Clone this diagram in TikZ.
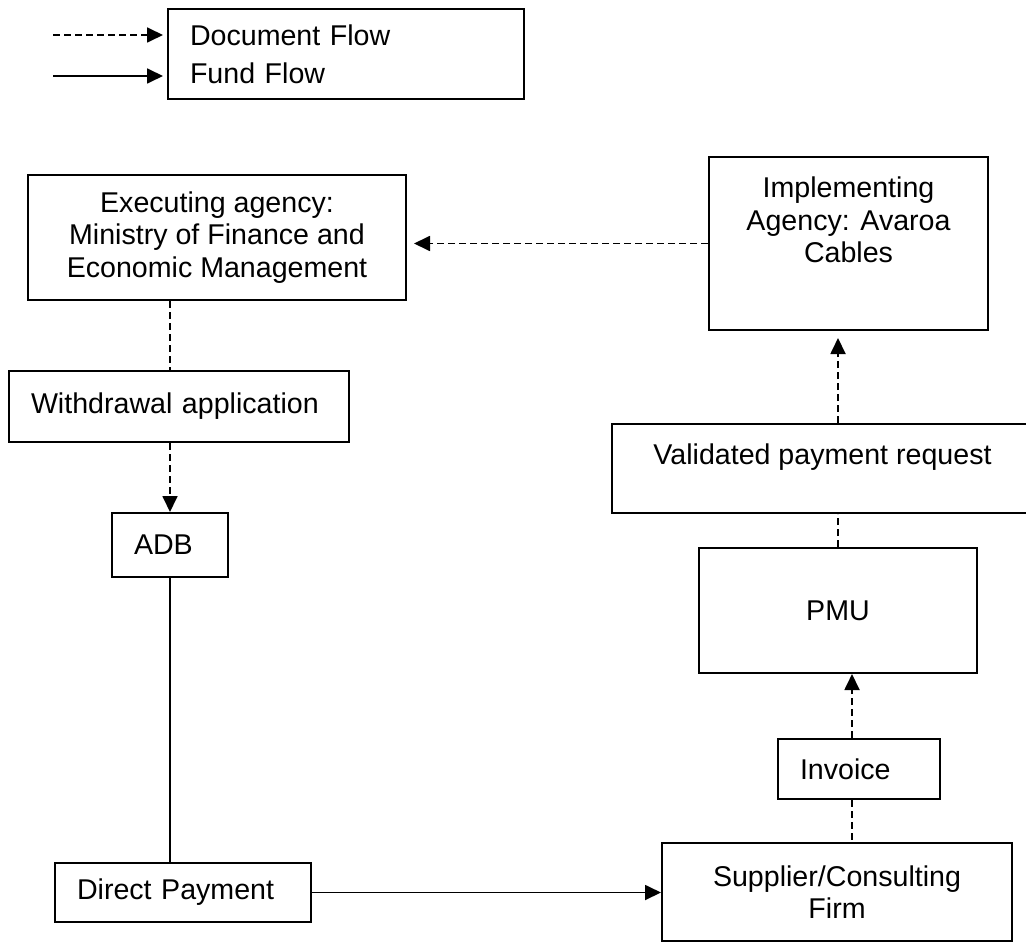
\documentclass[tikz,border=0pt]{standalone}
\usepackage{fontspec}
\setmainfont{Liberation Sans}
\usetikzlibrary{arrows.meta, positioning, calc}

\begin{document}
\begin{tikzpicture}[x=0.5pt, y=-0.5pt,
	every node/.style={font=\fontsize{14.3}{16.3}\selectfont},
	box/.style={draw, line width=1pt, anchor=north west, inner sep=0pt, align=center},
	lbox/.style={box, align=left, inner xsep=11pt},
	docline/.style={line width=0.9pt, dash pattern=on 3.4pt off 2.1pt},
	fundline/.style={line width=0.9pt},
	docflow/.style={docline, -{Triangle[length=8pt,width=7.5pt]}},
	fundflow/.style={fundline, -{Triangle[length=8pt,width=7.5pt]}}]
	\useasboundingbox (0,0) rectangle (1026,941);
	
	%----------------------------------------------------------------
	\node(legend) [lbox, text width=156pt, minimum height=45pt] at (167,8) {Document Flow\\[2.7pt]Fund Flow};
	\coordinate (docstart) at (53,35);
	\coordinate (fundstart) at (53,76);
	\draw [docflow, shorten >=2pt] (docstart) -- (docstart -| legend.west);
	\draw [fundflow, shorten >=2pt] (fundstart) -- (fundstart -| legend.west);
	
	%----------------------------------------------------------------
	\node(exec) [box, minimum width=189pt, minimum height=62.5pt] at (27,174) {Executing agency:\\Ministry of Finance and\\Economic Management};
	\node(wd) [lbox, text width=148pt, minimum height=35.5pt] at (8,370) {Withdrawal application};
	\node(adb) [lbox, text width=36pt, minimum height=32pt] at (111,512) {ADB};
	\node(dp) [lbox, text width=106pt, minimum height=29.5pt] at (54,862) {Direct Payment};
	
	%----------------------------------------------------------------
	\node(impl) [box, minimum width=139.5pt, minimum height=86.5pt] at (708,156) {};
	\node(impltext) [below=10.25pt of impl.north, align=center, inner sep=0pt] {Implementing\\Agency: Avaroa\\Cables};
	\node(val) [box, minimum width=210.5pt, minimum height=44.5pt, text depth=14.7pt] at (611,423) {Validated payment request};
	\node(pmu) [box, minimum width=139pt, minimum height=62.5pt] at (698,547) {PMU};
	\node(inv) [lbox, text width=59pt, minimum height=30pt] at (777,738) {Invoice};
	\node(sup) [box, minimum width=175pt, minimum height=49pt] at (661,842) {Supplier/Consulting\\Firm};
	
	%----------------------------------------------------------------
	\draw [docflow, shorten >=3.5pt] (impl.west) -- (impl.west -| exec.east);
	\draw [docline] (exec.south -| adb) -- (wd.north -| adb);
	\draw [docflow] (wd.south -| adb) -- (adb.north);
	\draw [fundline] (adb.south) -- (adb.south |- dp.north);
	\draw [fundflow] (dp.east) -- (dp.east -| sup.west);
	
	\draw [docline] ([xshift=-3.5pt]inv.south) -- ([xshift=-3.5pt]inv.south |- sup.north);
	\draw [docflow] ([xshift=-3.5pt]inv.north) -- ([xshift=-3.5pt]inv.north |- pmu.south);
	\draw [docline] (pmu.north) -- (pmu.north |- val.south);
	\draw [docflow, shorten >=3.5pt] (val.north -| pmu) -- (impl.south -| pmu);
	
\end{tikzpicture}
\end{document}
